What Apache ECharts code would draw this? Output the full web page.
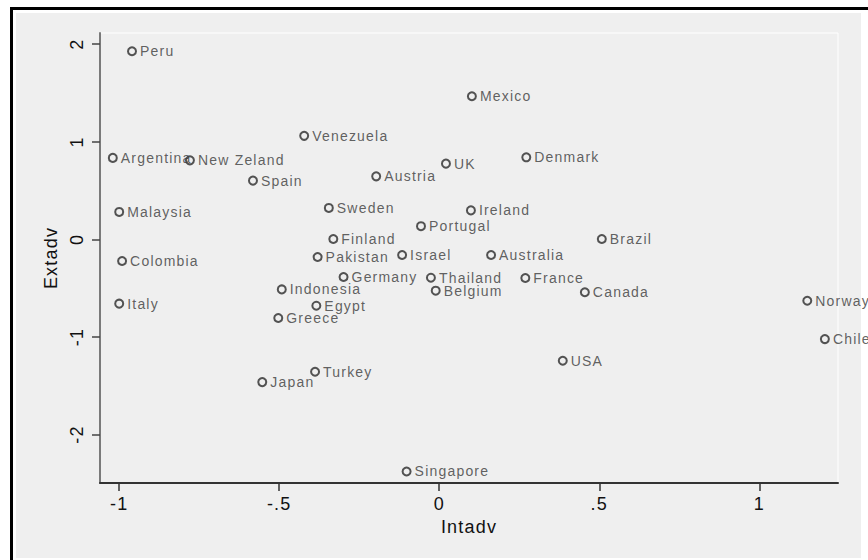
<!DOCTYPE html>
<html>
<head>
<meta charset="utf-8">
<script src="https://cdn.jsdelivr.net/npm/echarts@6/dist/echarts.min.js"></script>
<style>
  body { margin: 0; background: #fff; }
  #wrap { position: relative; width: 868px; height: 560px; background: #fff; overflow: hidden; }
  .frame { position: absolute; left: 10px; top: 7px; right: 0; bottom: 0; border-left: 3px solid #000; border-top: 3px solid #000; }
  .panel { position: absolute; left: 16px; top: 13px; width: 845px; height: 545px; background: #efefef; }
  #chart { position: absolute; left: 0; top: 0; width: 868px; height: 560px; }
  /* stata text is a bit spaced out */
  #chart text { letter-spacing: 1.2px; }
</style>
</head>
<body>
<div id="wrap">
  <div class="frame"></div>
  <div class="panel"></div>
  <div id="chart"></div>
</div>
<script>
// country names and the two variables
var countries = ["Peru", "Mexico", "Venezuela", "Argentina", "New Zeland", "UK", "Denmark",
  "Austria", "Spain", "Malaysia", "Sweden", "Ireland", "Portugal", "Finland", "Brazil",
  "Colombia", "Pakistan", "Israel", "Australia", "Germany", "Thailand", "France",
  "Indonesia", "Belgium", "Canada", "Italy", "Egypt", "Norway", "Greece", "Chile",
  "USA", "Turkey", "Japan", "Singapore"];
var intadv = [-0.960, 0.102, -0.422, -1.020, -0.779, 0.021, 0.272,
  -0.197, -0.582, -1.000, -0.345, 0.099, -0.057, -0.331, 0.508,
  -0.991, -0.380, -0.116, 0.162, -0.299, -0.026, 0.269,
  -0.492, -0.011, 0.455, -1.000, -0.384, 1.150, -0.503, 1.205,
  0.386, -0.388, -0.553, -0.102];
var extadv = [1.928, 1.467, 1.061, 0.835, 0.810, 0.776, 0.841,
  0.646, 0.602, 0.281, 0.322, 0.297, 0.135, 0.004, 0.004,
  -0.222, -0.181, -0.160, -0.160, -0.386, -0.393, -0.396,
  -0.513, -0.526, -0.542, -0.659, -0.680, -0.629, -0.806, -1.022,
  -1.244, -1.357, -1.463, -2.379];

var xTicks = [-1, -0.5, 0, 0.5, 1];
var xTickLabels = ["-1", "-.5", "0", ".5", "1"];
var yTicks = [-2, -1, 0, 1, 2];
var yTickLabels = ["-2", "-1", "0", "1", "2"];

var fontFam = "'Liberation Sans', Arial, sans-serif";

var points = [];
for (var i = 0; i < countries.length; i++) {
  points.push({ name: countries[i], value: [intadv[i], extadv[i]] });
}

var myChart = echarts.init(document.getElementById("chart"), null, { renderer: "svg" });
var option = {
  backgroundColor: "transparent",
  animation: false,
  textStyle: { fontFamily: fontFam },
  grid: {
    left: 100,
    top: 33,
    width: 738,
    height: 450,
    show: true,
    backgroundColor: "transparent",
    borderColor: "#ffffff",
    borderWidth: 1
  },
  xAxis: {
    type: "value",
    min: -1.06,
    max: 1.246,
    name: "Intadv",
    nameLocation: "middle",
    nameGap: 31,
    nameTextStyle: { fontSize: 18, color: "#111", fontFamily: fontFam },
    axisLine: { show: true, onZero: false, lineStyle: { color: "#333", width: 2 } },
    axisTick: {
      show: true,
      length: 8,
      customValues: xTicks,
      lineStyle: { color: "#333", width: 1.5 }
    },
    axisLabel: {
      customValues: xTicks,
      fontSize: 18,
      color: "#111",
      margin: 12,
      fontFamily: fontFam,
      formatter: function (v) {
        var k = xTicks.indexOf(v);
        return k >= 0 ? xTickLabels[k] : "";
      }
    },
    splitLine: { show: false }
  },
  yAxis: {
    type: "value",
    min: -2.497,
    max: 2.115,
    name: "Extadv",
    nameLocation: "middle",
    nameRotate: 90,
    nameGap: 38,
    nameTextStyle: { fontSize: 18, color: "#111", fontFamily: fontFam },
    axisLine: { show: true, onZero: false, lineStyle: { color: "#7a7a7a", width: 2 } },
    axisTick: {
      show: true,
      length: 8,
      customValues: yTicks,
      lineStyle: { color: "#444", width: 1.5 }
    },
    axisLabel: {
      customValues: yTicks,
      rotate: 90,
      fontSize: 18,
      color: "#111",
      margin: 14,
      fontFamily: fontFam,
      formatter: function (v) {
        var k = yTicks.indexOf(v);
        return k >= 0 ? yTickLabels[k] : "";
      }
    },
    splitLine: { show: false }
  },
  series: [
    {
      type: "scatter",
      data: points,
      symbol: "circle",
      symbolSize: 8,
      clip: false,
      itemStyle: {
        color: "rgba(0,0,0,0)",
        borderColor: "#2a2a2a",
        borderWidth: 2
      },
      label: {
        show: true,
        position: "right",
        distance: 3,
        formatter: "{b}",
        fontSize: 14,
        color: "#3a3a3a",
        fontFamily: fontFam
      }
    }
  ]
};
myChart.setOption(option, true);
</script>
</body>
</html>
